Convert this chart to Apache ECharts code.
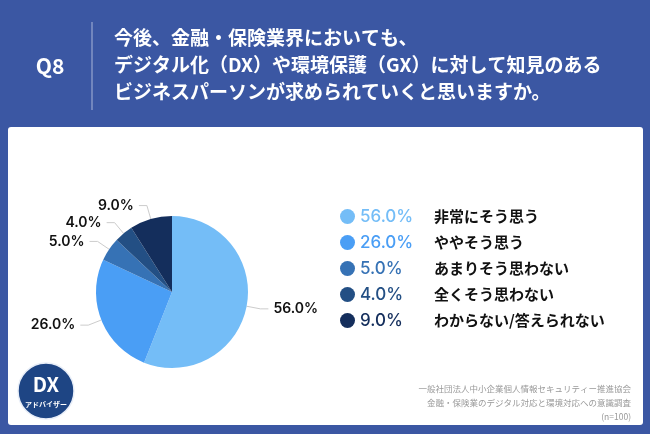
<!DOCTYPE html>
<html><head><meta charset="utf-8">
<script src="https://cdn.jsdelivr.net/npm/echarts@6/dist/echarts.min.js"></script>
<style>html,body{margin:0;padding:0;background:#3b57a3}#c{width:650px;height:434px}</style>
</head><body><div id="c"></div>
<script>
const categories = ['非常にそう思う','ややそう思う','あまりそう思わない','全くそう思わない','わからない/答えられない'];
const values = [56.0, 26.0, 5.0, 4.0, 9.0];
const colors = ['#74bdf7','#4a9ef5','#3672b5','#234f84','#142e5c'];
const titleLines = ['今後、金融・保険業界においても、','デジタル化（DX）や環境保護（GX）に対して知見のある','ビジネスパーソンが求められていくと思いますか。'];
const sourceLines = ['一般社団法人中小企業個人情報セキュリティー推進協会','金融・保険業のデジタル対応と環境対応への意識調査','(n=100)'];
const F = '"Noto Sans CJK JP", "Noto Sans", sans-serif';
const N = 'Inter, "Noto Sans", sans-serif';
const chart = echarts.init(document.getElementById('c'));
const rich = {};
colors.forEach((c,i)=>{ rich['p'+i] = {color:c, fontSize:17, fontFamily:N, fontWeight:500, width:74}; });
rich.t = {color:'#111', fontSize:15, fontWeight:'bold', fontFamily:F};
const graphic = [
  {type:'rect', shape:{x:8,y:127,width:635,height:298,r:3}, style:{fill:'#fff'}, z:-10},
  {type:'text', x:50, y:66, style:{text:'Q8', fill:'#fff', font:'bold 21px '+F, align:'center', verticalAlign:'middle'}},
  {type:'line', shape:{x1:92,y1:22,x2:92,y2:110}, style:{stroke:'#aab6d8', lineWidth:1}},
  {type:'circle', shape:{cx:46,cy:391,r:28}, style:{fill:'#1e4584', stroke:'#e8eef8', lineWidth:1.5}},
  {type:'text', x:46, y:384, style:{text:'DX', fill:'#fff', font:'bold 20px '+F, align:'center', verticalAlign:'middle'}},
  {type:'text', x:46, y:404, style:{text:'アドバイザー', fill:'#fff', font:'bold 7px '+F, align:'center', verticalAlign:'middle'}}
];
titleLines.forEach((t,i)=>graphic.push({type:'text', x:114, y:38+i*27, style:{text:t, fill:'#fff', font:'bold 19px '+F, verticalAlign:'middle'}}));
sourceLines.forEach((t,i)=>graphic.push({type:'text', x:631, y:389+i*14, style:{text:t, fill:'#999', font:'8.5px '+F, align:'right', verticalAlign:'middle'}}));
chart.setOption({
  animation:false,
  color: colors,
  graphic: graphic,
  legend: {
    orient:'vertical', left:335, top:203, itemGap:9, icon:'circle', itemWidth:15, itemHeight:15,
    data: categories,
    formatter: name => { const i = categories.indexOf(name); return '{p'+i+'|'+values[i].toFixed(1)+'%}{t|'+name+'}'; },
    textStyle: {rich: rich}
  },
  series: [{
    type:'pie', center:[172,292], radius:[0,76], startAngle:90, clockwise:true,
    data: categories.map((n,i)=>({name:n, value:values[i]})),
    label:{show:true, formatter: p=>p.value.toFixed(1)+'%', color:'#111', fontSize:14, fontWeight:600, fontFamily:N},
    labelLine:{show:true, length:14, length2:8, lineStyle:{color:'#ccc'}},
    itemStyle:{borderWidth:0}
  }]
});
</script></body></html>
